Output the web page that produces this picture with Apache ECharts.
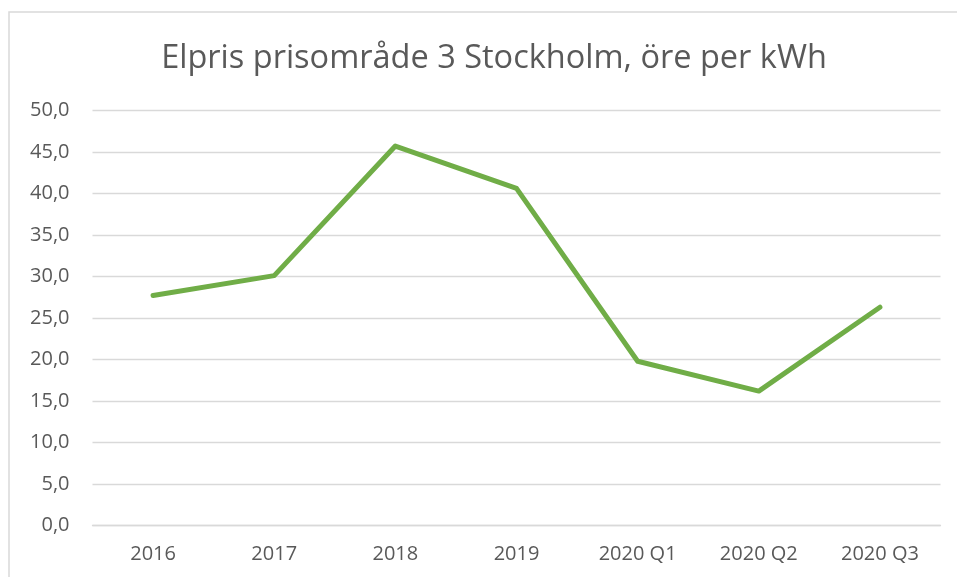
<!DOCTYPE html>
<html>
<head>
<meta charset="utf-8">
<script src="https://cdn.jsdelivr.net/npm/echarts@6/dist/echarts.min.js"></script>
<style>html,body{margin:0;padding:0;background:#fff}#c{width:957px;height:577px}</style>
</head>
<body>
<div id="c"></div>
<script>
const titleText = 'Elpris prisområde 3 Stockholm, öre per kWh';
const categories = ['2016', '2017', '2018', '2019', '2020 Q1', '2020 Q2', '2020 Q3'];
const prices = [27.7, 30.1, 45.7, 40.6, 19.8, 16.2, 26.3];
const yMin = 0, yMax = 50, yStep = 5;

const chart = echarts.init(document.getElementById('c'), null, {renderer: 'canvas'});
chart.setOption({
  animation: false,
  backgroundColor: '#fff',
  textStyle: {fontFamily: 'Open Sans'},
  graphic: [{
    type: 'rect', silent: true, z: -1,
    shape: {x: 9, y: 12, width: 1100, height: 700},
    style: {fill: 'none', stroke: '#d9d9d9', lineWidth: 1.5}
  }],
  title: {
    text: titleText,
    left: 489, top: 37, textAlign: 'center',
    textStyle: {fontFamily: 'Open Sans', fontSize: 32.5, fontWeight: 'normal', color: '#595959'}
  },
  grid: {left: 92.5, right: 16.5, top: 110.3, bottom: 51.3, containLabel: false},
  xAxis: {
    type: 'category', data: categories, boundaryGap: true,
    axisLine: {show: true, lineStyle: {color: '#d9d9d9', width: 1.3}},
    axisTick: {show: false},
    axisLabel: {color: '#595959', fontSize: 20, margin: 19, fontFamily: 'Open Sans'}
  },
  yAxis: {
    type: 'value', min: yMin, max: yMax, interval: yStep,
    axisLine: {show: false}, axisTick: {show: false},
    splitLine: {lineStyle: {color: '#d9d9d9', width: 1.3}},
    axisLabel: {color: '#595959', fontSize: 20, margin: 23, fontFamily: 'Open Sans',
      formatter: v => v.toFixed(1).replace('.', ',')}
  },
  series: [{
    type: 'line', data: prices, showSymbol: false, symbol: 'none',
    lineStyle: {color: '#70ad47', width: 5, cap: 'round', join: 'round'}
  }]
});
</script>
</body>
</html>
